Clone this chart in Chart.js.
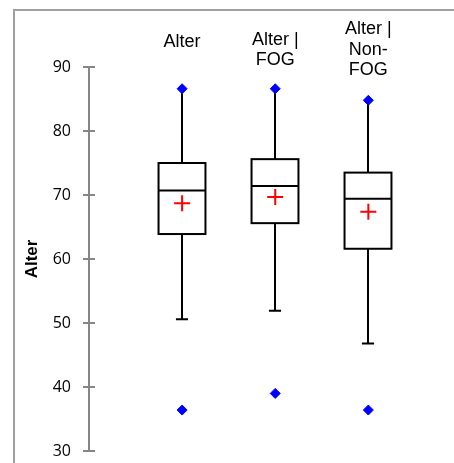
<!DOCTYPE html>
<html>
<head>
<meta charset="utf-8">
<script src="https://cdn.jsdelivr.net/npm/chart.js@4.4.1/dist/chart.umd.min.js"></script>
<style>
  html, body { margin: 0; padding: 0; background: #fff; }
</style>
</head>
<body>
<canvas id="c" width="454" height="463"></canvas>
<script>
// Box-plot summary of age ("Alter") for all patients, FOG and non-FOG groups
const categories = [['Alter'], ['Alter |', 'FOG'], ['Alter |', 'Non-', 'FOG']];
const whiskerLow = [50.6, 51.9, 46.8];
const q1 = [63.9, 65.6, 61.6];
const median = [70.7, 71.4, 69.4];
const q3 = [75.0, 75.6, 73.5];
const maxima = [86.6, 86.6, 84.8];
const minima = [36.4, 39.0, 36.4];
const means = [68.7, 69.7, 67.4];
const yTicks = [30, 40, 50, 60, 70, 80, 90];

const AXIS_GRAY = '#868686';

// Boxes, whiskers, medians, outer frame and category headers
const boxPlotPlugin = {
  id: 'boxPlot',
  beforeDatasetsDraw(chart, args, opts) {
    const { ctx } = chart;
    const xs = chart.scales.x, ys = chart.scales.y;
    ctx.save();
    ctx.strokeStyle = '#000';
    ctx.lineWidth = 2;
    categories.forEach((_, i) => {
      const cx = Math.round(xs.getPixelForValue(i));
      const half = xs.getPixelForValue(i + opts.boxHalf) - xs.getPixelForValue(i);
      const cap = xs.getPixelForValue(i + opts.capHalf) - xs.getPixelForValue(i);
      const yLow = ys.getPixelForValue(whiskerLow[i]);
      const yQ1 = ys.getPixelForValue(q1[i]);
      const yMed = ys.getPixelForValue(median[i]);
      const yQ3 = ys.getPixelForValue(q3[i]);
      const yMax = ys.getPixelForValue(maxima[i]);
      // whiskers
      ctx.beginPath();
      ctx.moveTo(cx, yLow); ctx.lineTo(cx, yQ1);
      ctx.moveTo(cx, yQ3); ctx.lineTo(cx, yMax);
      ctx.moveTo(cx - cap, yLow); ctx.lineTo(cx + cap, yLow);
      ctx.stroke();
      // box
      ctx.fillStyle = '#fff';
      ctx.fillRect(cx - half, yQ3, 2 * half, yQ1 - yQ3);
      ctx.strokeRect(cx - half, yQ3, 2 * half, yQ1 - yQ3);
      // median
      ctx.beginPath();
      ctx.moveTo(cx - half, yMed); ctx.lineTo(cx + half, yMed);
      ctx.stroke();
    });
    ctx.restore();
  },
  afterDraw(chart, args, opts) {
    const { ctx } = chart;
    const xs = chart.scales.x, ys = chart.scales.y;
    ctx.save();
    // outer frame (runs off the right and bottom edges)
    ctx.strokeStyle = '#a0a0a0';
    ctx.lineWidth = 2;
    ctx.strokeRect(14, 10, 600, 600);
    // cross tick marks on the value axis
    ctx.strokeStyle = AXIS_GRAY;
    ctx.lineWidth = 2;
    const ax = ys.right;
    yTicks.forEach(v => {
      const y = Math.round(ys.getPixelForValue(v));
      ctx.beginPath();
      ctx.moveTo(ax - 6, y); ctx.lineTo(ax + 6, y);
      ctx.stroke();
    });
    // category headers
    ctx.fillStyle = '#000';
    ctx.font = '18px "Liberation Sans", Arial, sans-serif';
    ctx.textAlign = 'center';
    ctx.textBaseline = 'middle';
    categories.forEach((lines, i) => {
      const cx = xs.getPixelForValue(i);
      const mid = opts.headerMid[i];
      const top = mid - (lines.length - 1) * opts.lineGap / 2;
      lines.forEach((t, k) => ctx.fillText(t, cx, top + k * opts.lineGap));
    });
    ctx.restore();
  }
};

const pts = arr => arr.map((v, i) => ({ x: i, y: v }));

new Chart(document.getElementById('c'), {
  type: 'scatter',
  data: {
    datasets: [
      {
        label: 'Mittelwert',
        data: pts(means),
        pointStyle: 'cross',
        pointRadius: 8,
        borderColor: '#ff0000',
        backgroundColor: '#ff0000',
        borderWidth: 2
      },
      {
        label: 'Minimum/Maximum',
        data: pts(maxima).concat(pts(minima)),
        pointStyle: 'rectRot',
        pointRadius: 5,
        borderColor: '#0000ff',
        backgroundColor: '#0000ff',
        borderWidth: 1
      }
    ]
  },
  options: {
    responsive: false,
    devicePixelRatio: 1,
    animation: false,
    events: [],
    layout: { autoPadding: false, padding: { top: 67, bottom: 12, left: 0, right: 0 } },
    plugins: {
      legend: { display: false },
      tooltip: { enabled: false },
      boxPlot: { boxHalf: 0.252, capHalf: 0.065, headerMid: [41.7, 50, 50], lineGap: 20.5 }
    },
    scales: {
      x: { type: 'linear', min: -1, max: 2.92, display: false },
      y: {
        min: 30, max: 90,
        afterBuildTicks(s) { s.ticks = yTicks.map(v => ({ value: v })); },
        afterFit(s) {
          s.width = 89;
          // the outer labels may reach past the plot edges
          s.paddingTop = 0;
          s.paddingBottom = 0;
        },
        grid: { display: false, drawTicks: false },
        border: { display: true, color: AXIS_GRAY, width: 2 },
        ticks: {
          color: '#000',
          padding: 18,
          font: { family: '"Open Sans", sans-serif', size: 16 }
        },
        title: {
          display: true,
          text: 'Alter',
          color: '#000',
          font: { family: '"Liberation Sans", Arial, sans-serif', size: 17, weight: 'bold' },
          padding: { top: 22, bottom: 0 }
        }
      }
    }
  },
  plugins: [boxPlotPlugin]
});
</script>
</body>
</html>
